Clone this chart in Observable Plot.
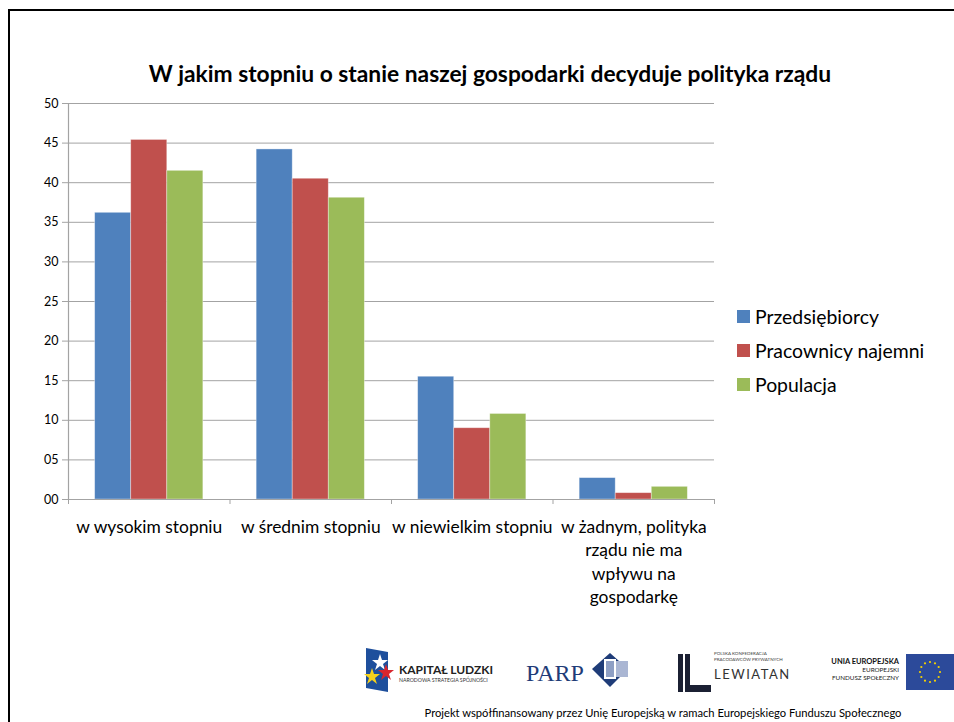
<!DOCTYPE html>
<html>
<head>
<meta charset="utf-8">
<script src="https://cdn.jsdelivr.net/npm/d3@7"></script>
<script src="https://cdn.jsdelivr.net/npm/@observablehq/plot@0.6"></script>
<style>
  html, body { margin: 0; padding: 0; background: #fff; }
  #page { position: relative; width: 954px; height: 722px; overflow: hidden; font-family: Lato, "Open Sans", sans-serif; }
  #title { position: absolute; left: 0; width: 980px; top: 59px; text-align: center; font-weight: bold; font-size: 22.8px; color: #000; }
  #chart { position: absolute; left: 0; top: 0; }
  #legend { position: absolute; left: 737px; top: 299px; font-size: 19.4px; color: #000; }
  .li { display: flex; align-items: center; height: 34px; }
  .sw { width: 13px; height: 13px; margin-right: 5px; }
  .bt { position: absolute; background: #000; }
  #footer { position: absolute; left: 0; top: 0; }
</style>
</head>
<body>
<div id="page">
  <div class="bt" style="left:8px;top:9px;width:946px;height:2px"></div>
  <div class="bt" style="left:8px;top:9px;width:2px;height:713px"></div>
  <div id="title">W jakim stopniu o stanie naszej gospodarki decyduje polityka rządu</div>
  <div id="chart"></div>
  <div id="legend"></div>
  <svg id="footer" width="954" height="722" style="pointer-events:none">
    <!-- Kapitał Ludzki -->
    <path d="M366,648 L388,652 L388,692 L366,688 Z" fill="#1e4f9c"/>
    <polygon points="380,654 382,660 388,660 383,664 385,670 380,666 375,670 377,664 372,660 378,660" fill="#fff"/>
    <polygon points="386,664 388,670 394,670 389,674 391,680 386,676 381,680 383,674 378,670 384,670" fill="#d8262e"/>
    <polygon points="372,668 374,674 380,674 375,678 377,684 372,680 367,684 369,678 364,674 370,674" fill="#f6d21b"/>
    <text x="399" y="674" font-family="Lato, sans-serif" font-weight="bold" font-size="12" fill="#222">KAPITAŁ LUDZKI</text>
    <text x="399" y="682" font-family="Lato, sans-serif" font-size="5.2" fill="#333">NARODOWA STRATEGIA SPÓJNOŚCI</text>
    <!-- PARP -->
    <text x="526" y="681" font-family="'Liberation Serif', serif" font-size="24" fill="#1f3c78">PARP</text>
    <polygon points="610,653 628,669 610,687 592,669" fill="#1f3c78"/>
    <rect x="604" y="659" width="12" height="20" fill="#fff"/>
    <rect x="606" y="661" width="8" height="16" fill="#8e9fc4"/>
    <rect x="616" y="661" width="12" height="16" fill="#aab6d3"/>
    <!-- Lewiatan -->
    <rect x="678" y="654" width="5" height="38" fill="#1b2033"/>
    <rect x="685" y="654" width="5" height="38" fill="#1b2033"/>
    <rect x="685" y="685" width="26" height="7" fill="#1b2033"/>
    <text x="714" y="655" font-family="Lato, sans-serif" font-size="4.5" fill="#444">POLSKA KONFEDERACJA</text>
    <text x="714" y="661" font-family="Lato, sans-serif" font-size="4.5" fill="#444">PRACODAWCÓW PRYWATNYCH</text>
    <text x="714" y="679" font-family="Lato, sans-serif" font-size="13" letter-spacing="1.5" fill="#333">LEWIATAN</text>
    <!-- UE -->
    <text x="899" y="664" text-anchor="end" font-family="Lato, sans-serif" font-weight="bold" font-size="7.5" fill="#111">UNIA EUROPEJSKA</text>
    <text x="899" y="672" text-anchor="end" font-family="Lato, sans-serif" font-size="6.3" fill="#222">EUROPEJSKI</text>
    <text x="899" y="680" text-anchor="end" font-family="Lato, sans-serif" font-size="6.3" fill="#222">FUNDUSZ SPOŁECZNY</text>
    <rect x="906" y="654" width="48" height="36" fill="#2c4a9a"/>
    <g fill="#f5d300" id="stars"></g>
    <text x="663" y="717" text-anchor="middle" font-family="Lato, sans-serif" font-size="11.2" fill="#000">Projekt współfinansowany przez Unię Europejską w ramach Europejskiego Funduszu Społecznego</text>
  </svg>
</div>
<script>
// ---- data ----
const categories = [
  "w wysokim stopniu",
  "w średnim stopniu",
  "w niewielkim stopniu",
  "w żadnym, polityka\nrządu nie ma\nwpływu na\ngospodarkę"
];
const seriesNames = ["Przedsiębiorcy", "Pracownicy najemni", "Populacja"];
const przedsiebiorcy = [36.2, 44.2, 15.5, 2.7];
const pracownicyNajemni = [45.4, 40.5, 9.0, 0.8];
const populacja = [41.5, 38.1, 10.8, 1.6];
const seriesColors = ["#4F81BD", "#C0504D", "#9BBB59"];
const yTicks = [0, 5, 10, 15, 20, 25, 30, 35, 40, 45, 50];

// ---- table ----
const seriesValues = [przedsiebiorcy, pracownicyNajemni, populacja];
const groupFill = 0.67;                  // share of a category band covered by bars
const barW = groupFill / seriesNames.length;
const table = [];
categories.forEach((c, i) => {
  seriesNames.forEach((s, j) => {
    const x1 = i + (1 - groupFill) / 2 + j * barW;
    table.push({category: c, series: s, value: seriesValues[j][i], x1, x2: x1 + barW});
  });
});
const catCenters = categories.map((c, i) => i + 0.5);
const catBounds = d3.range(categories.length + 1);

const grid = "#a3a3a3";
const chart = Plot.plot({
  width: 954,
  height: 640,
  marginLeft: 68,
  marginRight: 240,
  marginTop: 103,
  marginBottom: 141,
  style: {fontFamily: "Lato, 'Open Sans', sans-serif", background: "transparent", overflow: "visible"},
  x: {type: "linear", domain: [0, categories.length], axis: null},
  y: {domain: [0, 50], axis: null, label: null},
  color: {domain: seriesNames, range: seriesColors},
  marks: [
    Plot.ruleY(yTicks.slice(1), {stroke: grid, strokeWidth: 1}),
    Plot.rectY(table, {x1: "x1", x2: "x2", y: "value", fill: "series", stroke: "#ffffff", strokeOpacity: 0.45, strokeWidth: 0.8}),
    Plot.ruleY([0], {stroke: grid, strokeWidth: 1.2}),
    Plot.ruleX([0], {stroke: grid, strokeWidth: 1.2}),
    Plot.axisY({ticks: yTicks, tickFormat: d3.format("02d"), tickSize: 6, tickPadding: 4, fontSize: 12.5, stroke: grid, color: "#000", label: null}),
    Plot.axisX({ticks: catBounds, tickFormat: () => "", tickSize: 5, stroke: grid, label: null}),
    Plot.axisX({ticks: catCenters, tickFormat: (d) => categories[Math.round(d - 0.5)], tickSize: 0, tickPadding: 17, fontSize: 17.4, lineHeight: 1.34, color: "#000", label: null})
  ]
});
document.getElementById("chart").appendChild(chart);

// legend
const leg = document.getElementById("legend");
seriesNames.forEach((s, j) => {
  const d = document.createElement("div");
  d.className = "li";
  d.innerHTML = `<span class="sw" style="background:${seriesColors[j]}"></span><span>${s}</span>`;
  leg.appendChild(d);
});

// EU flag stars
const g = document.getElementById("stars");
for (let k = 0; k < 12; k++) {
  const a = k * Math.PI / 6;
  const c = document.createElementNS("http://www.w3.org/2000/svg", "circle");
  c.setAttribute("cx", 930 + 10 * Math.cos(a));
  c.setAttribute("cy", 672 + 10 * Math.sin(a));
  c.setAttribute("r", 1.1);
  g.appendChild(c);
}
</script>
</body>
</html>
